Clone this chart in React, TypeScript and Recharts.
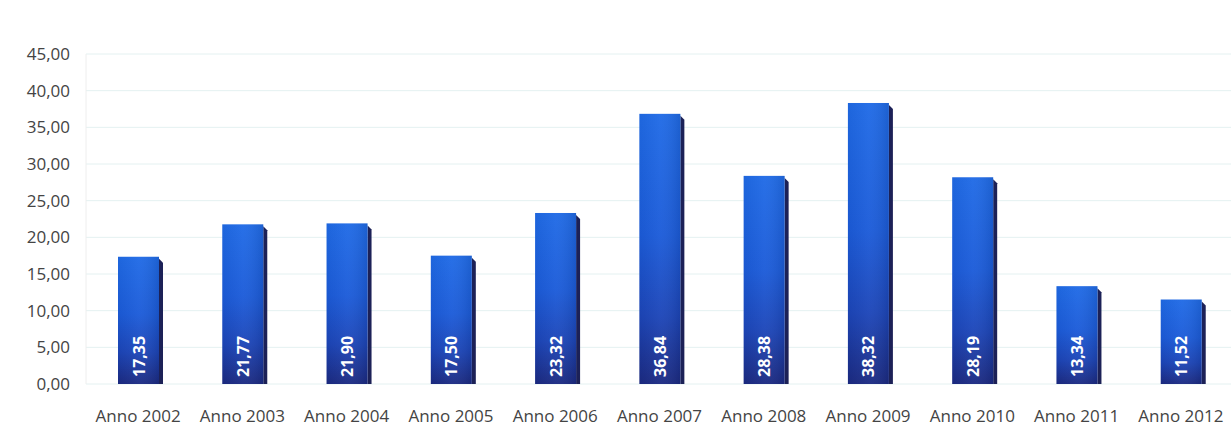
import React from 'react';
import { BarChart, Bar, XAxis, YAxis, CartesianGrid, LabelList } from 'recharts';

const categories = ['Anno 2002', 'Anno 2003', 'Anno 2004', 'Anno 2005', 'Anno 2006', 'Anno 2007', 'Anno 2008', 'Anno 2009', 'Anno 2010', 'Anno 2011', 'Anno 2012'];
const values = [17.35, 21.77, 21.9, 17.5, 23.32, 36.84, 28.38, 38.32, 28.19, 13.34, 11.52];
const yTicks = [0, 5, 10, 15, 20, 25, 30, 35, 40, 45];

const data = categories.map((c, i) => ({ name: c, value: values[i] }));

const fmt = (v: number) => v.toFixed(2).replace('.', ',');

const FONT = '"Open Sans", "DejaVu Sans", sans-serif';

const BarShape = (props: any) => {
  const { x, y, width, height } = props;
  if (height <= 0) return null;
  const s = 4;
  const shadow = `M${x + width},${y + 2} L${x + width + s},${y + 2 + s} L${x + width + s},${y + height} L${x + width},${y + height} Z`;
  return (
    <g>
      <path d={shadow} fill="#1c2157" />
      <rect x={x} y={y} width={width} height={height} fill="url(#barGrad)" />
      <rect x={x} y={y} width={width} height={height} fill="url(#barGradH)" />
    </g>
  );
};

const ValueLabel = (props: any) => {
  const { x, y, width, height, value } = props;
  const cx = x + width / 2;
  const by = y + height - 7;
  return (
    <text
      x={cx}
      y={by}
      transform={`rotate(-90, ${cx}, ${by})`}
      textAnchor="start"
      dominantBaseline="central"
      fill="#ffffff"
      fontFamily={FONT}
      fontWeight={700}
      fontSize={16}
    >
      {fmt(value)}
    </text>
  );
};

export default function App() {
  return (
    <div style={{ position: 'absolute', left: 0, top: 0, width: 1231, height: 435, overflow: 'hidden', background: '#ffffff' }}>
      <BarChart
        width={1236}
        height={435}
        data={data}
        margin={{ top: 54, right: 3, bottom: 21, left: 0 }}
        barCategoryGap={0}
      >
        <defs>
          <linearGradient id="barGrad" x1="0" y1="0" x2="0" y2="1">
            <stop offset="0%" stopColor="#1f6ae6" />
            <stop offset="45%" stopColor="#1b5bd9" />
            <stop offset="75%" stopColor="#1c45b8" />
            <stop offset="100%" stopColor="#1b2a82" />
          </linearGradient>
          <linearGradient id="barGradH" x1="0" y1="0" x2="1" y2="0">
            <stop offset="0%" stopColor="#000000" stopOpacity={0.04} />
            <stop offset="50%" stopColor="#ffffff" stopOpacity={0.04} />
            <stop offset="100%" stopColor="#000000" stopOpacity={0.1} />
          </linearGradient>
        </defs>
        <CartesianGrid vertical={false} stroke="#e4f1f1" strokeWidth={1} />
        <XAxis
          dataKey="name"
          height={30}
          tickLine={false}
          axisLine={false}
          tickSize={0}
          tickMargin={26}
          interval={0}
          tick={{ fill: '#444444', fontSize: 17, fontFamily: FONT }}
        />
        <YAxis
          width={86}
          domain={[0, 45]}
          ticks={yTicks}
          tickFormatter={fmt}
          tickLine={false}
          axisLine={{ stroke: '#eeeeee' }}
          tickSize={0}
          tickMargin={16}
          tick={{ fill: '#444444', fontSize: 17, fontFamily: FONT }}
        />
        <Bar dataKey="value" barSize={41} shape={<BarShape />} isAnimationActive={false}>
          <LabelList dataKey="value" content={<ValueLabel />} />
        </Bar>
      </BarChart>
    </div>
  );
}
